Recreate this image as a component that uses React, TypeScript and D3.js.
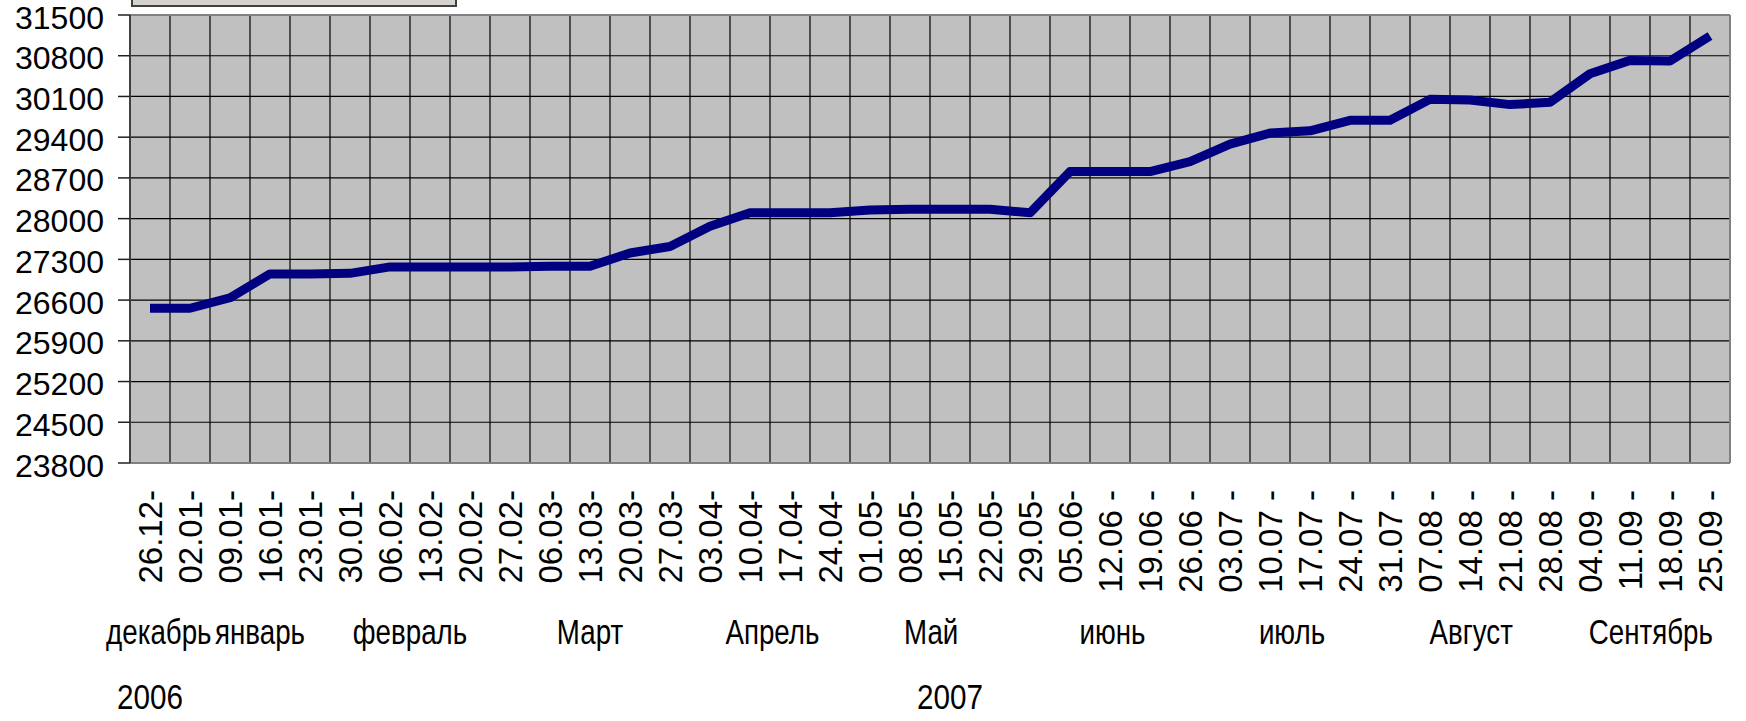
import React from "react";
import * as d3 from "d3";

const categories = [
  "26.12", "02.01", "09.01", "16.01", "23.01", "30.01", "06.02", "13.02", "20.02", "27.02",
  "06.03", "13.03", "20.03", "27.03", "03.04", "10.04", "17.04", "24.04", "01.05", "08.05",
  "15.05", "22.05", "29.05", "05.06", "12.06", "19.06", "26.06", "03.07", "10.07", "17.07",
  "24.07", "31.07", "07.08", "14.08", "21.08", "28.08", "04.09", "11.09", "18.09", "25.09",
];

const tickLabels = [
  "26.12-", "02.01-", "09.01-", "16.01-", "23.01-", "30.01-", "06.02-", "13.02-", "20.02-", "27.02-",
  "06.03-", "13.03-", "20.03-", "27.03-", "03.04-", "10.04-", "17.04-", "24.04-", "01.05-", "08.05-",
  "15.05-", "22.05-", "29.05-", "05.06-", "12.06 -", "19.06 -", "26.06 -", "03.07 -", "10.07 -", "17.07 -",
  "24.07 -", "31.07 -", "07.08 -", "14.08 -", "21.08 -", "28.08 -", "04.09 -", "11.09 -", "18.09 -", "25.09 -",
];

const values = [
  26460, 26460, 26640, 27050, 27050, 27060, 27170, 27170, 27170, 27170,
  27180, 27180, 27410, 27520, 27870, 28100, 28100, 28100, 28150, 28160,
  28160, 28160, 28100, 28810, 28810, 28810, 28980, 29280, 29470, 29510,
  29690, 29690, 30050, 30040, 29960, 30000, 30490, 30720, 30710, 31140,
];

const yTicks = [23800, 24500, 25200, 25900, 26600, 27300, 28000, 28700, 29400, 30100, 30800, 31500];

// month labels and their centre position in category units
const monthNames = ["декабрь", "январь", "февраль", "Март", "Апрель", "Май", "июнь", "июль", "Август", "Сентябрь"];
const monthPos = [0.22, 2.75, 6.5, 11.0, 15.56, 19.53, 24.06, 28.55, 33.03, 37.52];

const yearNames = ["2006", "2007"];
const yearFirst = [0, 1];
const yearLast = [0, 39];

const W = 1746;
const H = 721;
const left = 130;
const right = 1730;
const top = 15;
const bottom = 463;
const FONT = "'Liberation Sans', Arial, sans-serif";

export default function App() {
  const x = d3.scaleBand<string>().domain(categories).range([left, right]).padding(0);
  const y = d3.scaleLinear().domain([23800, 31500]).range([bottom, top]);
  const step = x.step();
  const cx = (i: number) => (x(categories[0]) as number) + step / 2 + i * step;

  const line = d3
    .line<number>()
    .x((_, i) => cx(i))
    .y((d) => y(d));

  const boundaries = d3.range(categories.length + 1).map((i) => left + i * step);

  return (
    <svg
      width={W}
      height={H}
      style={{ position: "absolute", left: 0, top: 0, background: "#fff" }}
      fontFamily={FONT}
    >
      <rect x={0} y={0} width={W} height={H} fill="#fff" />
      {/* legend box (cut off at top) */}
      <rect x={132} y={-12} width={324} height={18} fill="#d6d3ce" stroke="#404040" strokeWidth={2} />
      {/* plot area */}
      <rect x={left} y={top} width={right - left} height={bottom - top} fill="#c0c0c0" />
      {/* horizontal gridlines */}
      {yTicks.map((t) => (
        <line key={"h" + t} x1={left} x2={right} y1={y(t)} y2={y(t)} stroke="#000" strokeWidth={1.2} />
      ))}
      {/* vertical gridlines */}
      {boundaries.map((b, i) => (
        <line key={"v" + i} x1={b} x2={b} y1={top} y2={bottom} stroke="#000" strokeWidth={1.2} />
      ))}
      {/* plot border */}
      <line x1={left} x2={right} y1={top} y2={top} stroke="#808080" strokeWidth={2} />
      <line x1={right} x2={right} y1={top} y2={bottom} stroke="#808080" strokeWidth={2} />
      <line x1={left} x2={right} y1={bottom} y2={bottom} stroke="#808080" strokeWidth={2} />
      <line x1={left} x2={left} y1={top} y2={bottom} stroke="#404040" strokeWidth={2} />
      {/* y ticks + labels */}
      {yTicks.map((t) => (
        <g key={"yt" + t}>
          <line x1={118} x2={left} y1={y(t)} y2={y(t)} stroke="#202020" strokeWidth={1.5} />
          <text x={104} y={y(t) + 2} dy="0.36em" textAnchor="end" fontSize={32} fill="#000">
            {t}
          </text>
        </g>
      ))}
      {/* data line */}
      <path d={line(values) || ""} fill="none" stroke="#000080" strokeWidth={9} strokeLinejoin="round" />
      {/* rotated category labels */}
      {tickLabels.map((l, i) => (
        <text
          key={"xl" + i}
          transform={`translate(${cx(i) + 12},490) rotate(-90)`}
          textAnchor="end"
          fontSize={33}
          fill="#000"
        >
          {l}
        </text>
      ))}
      {/* month labels */}
      {monthNames.map((m, i) => (
        <text
          key={"m" + i}
          transform={`translate(${cx(monthPos[i])},644) scale(0.84,1.08)`}
          textAnchor="middle"
          fontSize={33}
          fill="#000"
        >
          {m}
        </text>
      ))}
      {/* year labels */}
      {yearNames.map((yr, i) => (
        <text
          key={"y" + i}
          transform={`translate(${(cx(yearFirst[i]) + cx(yearLast[i])) / 2},709) scale(0.9,1.08)`}
          textAnchor="middle"
          fontSize={33}
          fill="#000"
        >
          {yr}
        </text>
      ))}
    </svg>
  );
}
